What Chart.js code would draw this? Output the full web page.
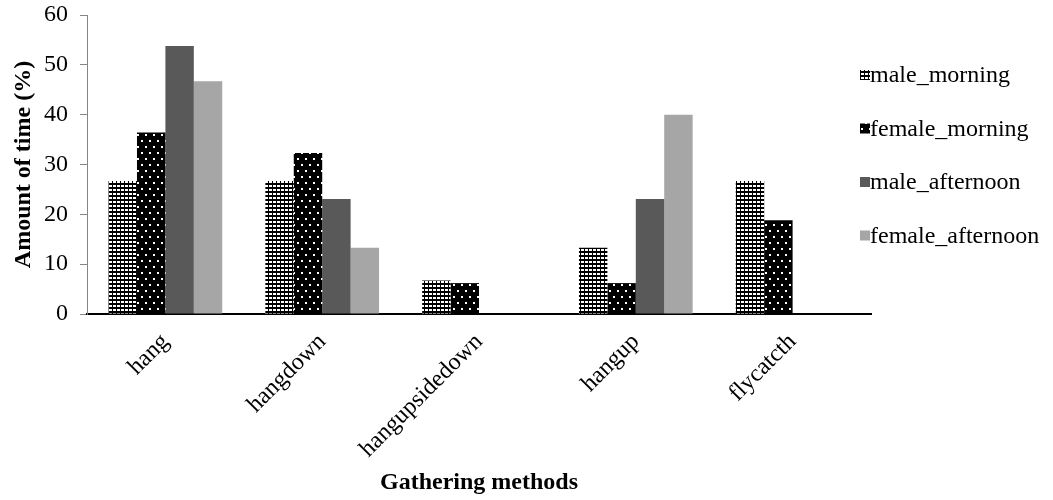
<!DOCTYPE html>
<html>
<head>
<meta charset="utf-8">
<script src="https://cdn.jsdelivr.net/npm/chart.js@4.4.1/dist/chart.umd.min.js"></script>
<style>
  html, body { margin: 0; padding: 0; background: #fff; }
  #wrap { width: 1053px; height: 500px; }
</style>
</head>
<body>
<div id="wrap"><canvas id="c" width="1053" height="500"></canvas></div>
<script>
// Share of gathering time per method, by sex and time of day (%)
const categories = ['hang', 'hangdown', 'hangupsidedown', 'hangup', 'flycatcth'];
const maleMorning = [26.7, 26.7, 6.7, 13.3, 26.7];
const femaleMorning = [36.4, 32.3, 6.2, 6.2, 18.8];
const maleAfternoon = [53.8, 23.1, 0, 23.1, 0];
const femaleAfternoon = [46.7, 13.3, 0, 40.0, 0];
const seriesNames = ['male_morning', 'female_morning', 'male_afternoon', 'female_afternoon'];
const yTicks = [0, 10, 20, 30, 40, 50, 60];

const FONT = '"Liberation Serif", "Times New Roman", serif';
const FS = 24;

// Small repeating tiles used as bar fills
function makePattern(w, h, paint) {
  const c = document.createElement('canvas');
  c.width = w; c.height = h;
  const g = c.getContext('2d');
  paint(g);
  return g.createPattern(c, 'repeat');
}
const gridFill = makePattern(4, 4, g => {
  g.fillStyle = '#000'; g.fillRect(0, 0, 4, 4);
  g.fillStyle = '#fff'; g.fillRect(1, 1, 3, 2);
});
const dotFill = makePattern(8, 12, g => {
  g.fillStyle = '#000'; g.fillRect(0, 0, 8, 12);
  g.fillStyle = '#fff'; g.fillRect(1, 2, 2, 2); g.fillRect(5, 8, 2, 2);
});

const seriesValues = [maleMorning, femaleMorning, maleAfternoon, femaleAfternoon];
const seriesFills = [gridFill, dotFill, '#595959', '#a6a6a6'];

// Vertical legend placed to the right, over the empty end of the plot
const sideLegend = {
  id: 'sideLegend',
  afterDraw(chart, args, opts) {
    const ctx = chart.ctx;
    ctx.save();
    ctx.font = FS + 'px ' + FONT;
    ctx.textBaseline = 'middle';
    ctx.textAlign = 'left';
    chart.data.datasets.forEach((ds, i) => {
      const y = opts.top + i * opts.step;
      ctx.fillStyle = ds.backgroundColor;
      ctx.fillRect(opts.left, y - 5, 10, 10);
      ctx.fillStyle = '#000';
      ctx.fillText(ds.label, opts.left + 10, y + 1);
    });
    ctx.restore();
  }
};

new Chart(document.getElementById('c'), {
  type: 'bar',
  data: {
    labels: categories,
    datasets: seriesNames.map((name, i) => ({
      label: name,
      data: seriesValues[i],
      backgroundColor: seriesFills[i],
      borderWidth: 0,
      categoryPercentage: 0.725,
      barPercentage: 1.0
    }))
  },
  options: {
    responsive: false,
    animation: false,
    layout: { padding: { left: 0, right: 182, top: 15, bottom: 0 } },
    plugins: {
      legend: { display: false },
      tooltip: { enabled: false },
      sideLegend: { left: 860, top: 75, step: 53.5 }
    },
    scales: {
      x: {
        grid: { display: false },
        border: { display: true, color: '#000', width: 2 },
        ticks: {
          color: '#000',
          font: { family: FONT, size: FS },
          minRotation: 45,
          maxRotation: 45,
          autoSkip: false,
          padding: 6
        },
        title: {
          display: true,
          text: 'Gathering methods',
          color: '#000',
          font: { family: FONT, size: FS, weight: 'bold' },
          padding: { top: 0, bottom: 3 }
        },
        afterFit(scale) { scale.height = 186; }
      },
      y: {
        min: 0,
        max: 60,
        afterBuildTicks(scale) { scale.ticks = yTicks.map(v => ({ value: v })); },
        grid: { drawOnChartArea: false, drawTicks: true, tickLength: 7, color: '#868686', lineWidth: 1 },
        border: { display: true, color: '#868686', width: 1 },
        ticks: {
          color: '#000',
          font: { family: FONT, size: FS, lineHeight: 0.2 },
          padding: 12
        },
        title: {
          display: true,
          text: 'Amount of time (%)',
          color: '#000',
          font: { family: FONT, size: FS, weight: 'bold' },
          padding: { top: 9, bottom: 0 }
        },
        afterFit(scale) { scale.width = 87; }
      }
    }
  },
  plugins: [sideLegend]
});
</script>
</body>
</html>
